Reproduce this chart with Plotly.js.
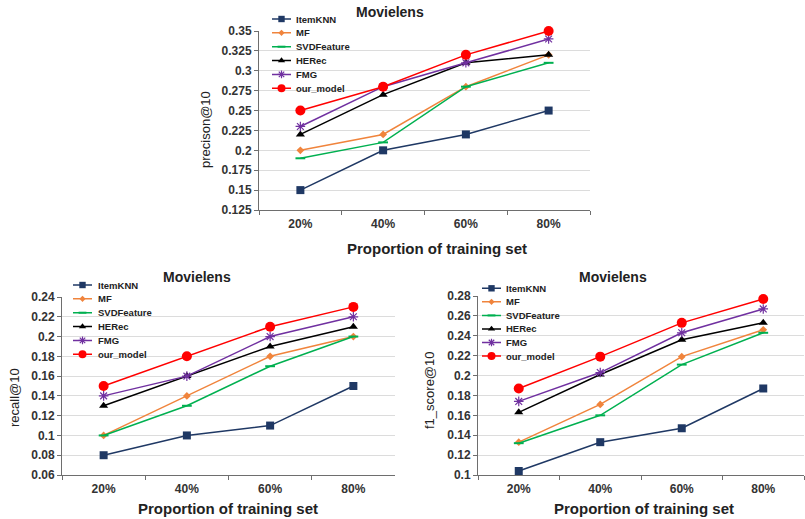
<!DOCTYPE html>
<html>
<head>
<meta charset="utf-8">
<script src="https://cdn.plot.ly/plotly-3.0.1.min.js"></script>
<style>html,body{margin:0;padding:0;background:#fff;}#chart{width:805px;height:519px;}</style>
</head>
<body>
<div id="chart"></div>
<script>
// ---- data ----
const categories = ['20%', '40%', '60%', '80%'];
const seriesNames = ['ItemKNN', 'MF', 'SVDFeature', 'HERec', 'FMG', 'our_model'];
const chartTitle = 'Movielens';
const xTitle = 'Proportion of training set';

const precisionItemKNN = [0.15, 0.20, 0.22, 0.25];
const precisionMF = [0.20, 0.22, 0.28, 0.32];
const precisionSVDFeature = [0.19, 0.21, 0.28, 0.31];
const precisionHERec = [0.22, 0.27, 0.31, 0.32];
const precisionFMG = [0.23, 0.28, 0.31, 0.34];
const precisionOurModel = [0.25, 0.28, 0.32, 0.35];

const recallItemKNN = [0.08, 0.10, 0.11, 0.15];
const recallMF = [0.10, 0.14, 0.18, 0.20];
const recallSVDFeature = [0.10, 0.13, 0.17, 0.20];
const recallHERec = [0.13, 0.16, 0.19, 0.21];
const recallFMG = [0.14, 0.16, 0.20, 0.22];
const recallOurModel = [0.15, 0.18, 0.21, 0.23];

const f1ItemKNN = [0.104, 0.133, 0.147, 0.187];
const f1MF = [0.133, 0.171, 0.219, 0.246];
const f1SVDFeature = [0.132, 0.160, 0.211, 0.243];
const f1HERec = [0.163, 0.201, 0.236, 0.253];
const f1FMG = [0.174, 0.203, 0.243, 0.267];
const f1OurModel = [0.187, 0.219, 0.253, 0.277];

// ---- styling / layout ----
const W = 805, H = 519;
const px = x => x / W;
const py = y => 1 - y / H;
const FONT = 'Liberation Sans, Arial, sans-serif';

const styles = [
  {color: '#1F3864', symbol: 'square', size: 8, lw: 1.5},
  {color: '#F0843C', symbol: 'diamond', size: 6, lw: 1.5},
  {color: '#00B050', symbol: 'line-ew', size: 7, lw: 1.5},
  {color: '#000000', symbol: 'triangle-up', size: 8, lw: 1.5},
  {color: '#7030A0', symbol: 'asterisk-open', size: 8, lw: 1.5},
  {color: '#FF0000', symbol: 'circle', size: 10, lw: 1.5}
];

function markerFor(s, scale) {
  const m = {symbol: s.symbol, size: s.size * scale, color: s.color};
  if (s.symbol === 'asterisk-open' || s.symbol === 'line-ew') {
    m.line = {color: s.color, width: s.symbol === 'line-ew' ? 2 : 1.2};
  } else {
    m.line = {width: 0};
  }
  return m;
}

const panels = [
  {ax: '', yTitle: 'precison@10', values: [precisionItemKNN, precisionMF, precisionSVDFeature, precisionHERec, precisionFMG, precisionOurModel],
   box: [259, 590, 31, 210], range: [0.125, 0.35], dtick: 0.025, titlePos: [390, 12],
   xTitlePos: [437, 248], yTitlePos: [205, 129],
   legend: {lineX: 272, textX: 294, row0: 19, step: 13.85}, legAx: '4'},
  {ax: '2', yTitle: 'recall@10', values: [recallItemKNN, recallMF, recallSVDFeature, recallHERec, recallFMG, recallOurModel],
   box: [62, 395, 297, 475], range: [0.06, 0.24], dtick: 0.02, titlePos: [197, 277],
   xTitlePos: [228, 508], yTitlePos: [14, 398],
   legend: {lineX: 73, textX: 96, row0: 285, step: 13.85}, legAx: '5'},
  {ax: '3', yTitle: 'f1_score@10', values: [f1ItemKNN, f1MF, f1SVDFeature, f1HERec, f1FMG, f1OurModel],
   box: [478, 804, 296, 475], range: [0.1, 0.28], dtick: 0.02, titlePos: [613, 277],
   xTitlePos: [644, 508], yTitlePos: [429, 390],
   legend: {lineX: 482, textX: 504, row0: 288.3, step: 13.55}, legAx: '6'}
];

const data = [];
const layout = {
  width: W, height: H,
  margin: {l: 0, r: 0, t: 0, b: 0},
  paper_bgcolor: '#ffffff', plot_bgcolor: 'rgba(0,0,0,0)',
  showlegend: false,
  font: {family: FONT, color: '#222'},
  annotations: []
};

panels.forEach(p => {
  const xa = 'x' + p.ax, ya = 'y' + p.ax;
  const [l, r, t, b] = p.box;
  layout['xaxis' + p.ax] = {
    domain: [px(l), px(r)], anchor: ya,
    type: 'category', categoryorder: 'array', categoryarray: categories,
    range: [-0.5, categories.length - 0.5],
    showline: true, linecolor: '#6e6e6e', linewidth: 1,
    ticks: 'outside', tickson: 'boundaries', ticklen: 4, tickcolor: '#6e6e6e',
    ticklabelstandoff: 3,
    tickfont: {family: FONT, size: 12, weight: 'bold', color: '#333'},
    showgrid: false, zeroline: false, fixedrange: true
  };
  layout['yaxis' + p.ax] = {
    domain: [py(b), py(t)], anchor: xa,
    range: p.range, tick0: p.range[0], dtick: p.dtick,
    showline: true, linecolor: '#6e6e6e', linewidth: 1,
    ticks: 'outside', ticklen: 4, tickcolor: '#6e6e6e',
    showgrid: true, gridcolor: '#dcdcdc', gridwidth: 1, zeroline: false, fixedrange: true,
    tickfont: {family: FONT, size: 12, weight: 'bold', color: '#333'}
  };

  seriesNames.forEach((name, i) => {
    const s = styles[i];
    data.push({
      type: 'scatter', mode: 'lines+markers', name: name,
      x: categories, y: p.values[i], xaxis: xa, yaxis: ya,
      line: {color: s.color, width: s.lw},
      marker: markerFor(s, 1), cliponaxis: false
    });
  });

  // chart title and axis titles
  layout.annotations.push({
    text: chartTitle, xref: 'paper', yref: 'paper', x: px(p.titlePos[0]), y: py(p.titlePos[1]),
    xanchor: 'center', yanchor: 'middle', showarrow: false,
    font: {family: FONT, size: 14, weight: 'bold', color: '#222'}
  });
  layout.annotations.push({
    text: xTitle, xref: 'paper', yref: 'paper', x: px(p.xTitlePos[0]), y: py(p.xTitlePos[1]),
    xanchor: 'center', yanchor: 'middle', showarrow: false,
    font: {family: FONT, size: 15, weight: 'bold', color: '#222'}
  });
  layout.annotations.push({
    text: p.yTitle, xref: 'paper', yref: 'paper', x: px(p.yTitlePos[0]), y: py(p.yTitlePos[1]),
    xanchor: 'center', yanchor: 'middle', textangle: -90, showarrow: false,
    font: {family: FONT, size: 13, color: '#222'}
  });

  // compact legend
  const lg = p.legend, n = seriesNames.length;
  const lx = 'x' + p.legAx, ly = 'y' + p.legAx;
  const topPx = lg.row0 - lg.step / 2, botPx = lg.row0 + (n - 0.5) * lg.step;
  layout['xaxis' + p.legAx] = {domain: [px(lg.lineX), px(lg.lineX + 19)], anchor: ly, range: [0, 1], visible: false, fixedrange: true};
  layout['yaxis' + p.legAx] = {domain: [py(botPx), py(topPx)], anchor: lx, range: [n - 0.5, -0.5], visible: false, fixedrange: true};
  seriesNames.forEach((name, i) => {
    const s = styles[i];
    data.push({type: 'scatter', mode: 'lines', x: [0, 1], y: [i, i], xaxis: lx, yaxis: ly,
      line: {color: s.color, width: s.lw}, hoverinfo: 'skip', showlegend: false});
    data.push({type: 'scatter', mode: 'markers', x: [0.5], y: [i], xaxis: lx, yaxis: ly,
      marker: markerFor(s, 0.8), cliponaxis: false, hoverinfo: 'skip', showlegend: false});
    layout.annotations.push({
      text: name, xref: 'paper', yref: 'paper', x: px(lg.textX), y: py(lg.row0 + i * lg.step),
      xanchor: 'left', yanchor: 'middle', showarrow: false,
      font: {family: FONT, size: 9.5, weight: 'bold', color: '#222'}
    });
  });
});

Plotly.newPlot('chart', data, layout, {displayModeBar: false, staticPlot: true});
</script>
</body>
</html>
